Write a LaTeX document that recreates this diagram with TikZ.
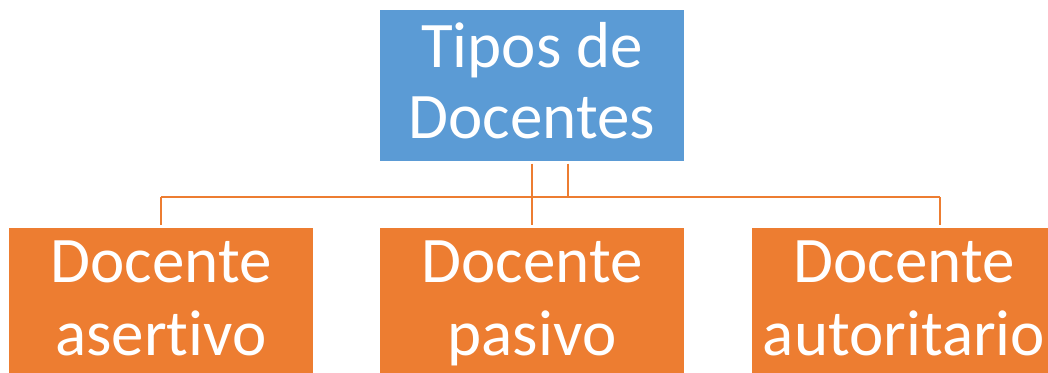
\documentclass[tikz,border=0pt]{standalone}
\usepackage{fontspec}
\setmainfont{Carlito}[Ligatures={NoCommon}]
\definecolor{tiposblue}{HTML}{5B9BD5}
\definecolor{tiposorange}{HTML}{ED7D31}
\tikzset{
  topbox/.style={fill=tiposblue, text=white, minimum width=152pt, minimum height=75.5pt,
    align=center, inner sep=0pt, outer sep=1.5pt, text height=53pt, text depth=0pt,
    font=\fontsize{32.5}{35.5}\selectfont},
  kindbox/.style={fill=tiposorange, text=white, minimum width=152pt, minimum height=75pt,
    align=center, inner sep=0pt, outer sep=1.5pt, text height=52pt, text depth=0pt,
    font=\fontsize{32.5}{36.5}\selectfont},
  link/.style={draw=tiposorange, line width=1.25pt}
}
\begin{document}
\begin{tikzpicture}[x=0.5pt,y=-0.5pt]
\clip (0,0) rectangle (1048,372);
\node[topbox] (tipos) at (532,85) {Tipos de\\Docentes};
\node[kindbox] (asertivo) at (161,303) {Docente\\asertivo};
\node[kindbox] (pasivo) at (532,303) {Docente\\pasivo};
\node[kindbox] (autoritario) at (904,303) {Docente\\autoritario};
\coordinate (branch) at (568,197);
\coordinate (rightdrop) at (940,197);
\path[link] (tipos) -- (pasivo);
\path[link] (tipos.south -| branch) -- (branch);
\path[link] (asertivo.north |- branch) -- (rightdrop);
\path[link] (asertivo.north |- branch) -- (asertivo.north);
\path[link] (rightdrop) -- (rightdrop |- autoritario.north);
\end{tikzpicture}
\end{document}
